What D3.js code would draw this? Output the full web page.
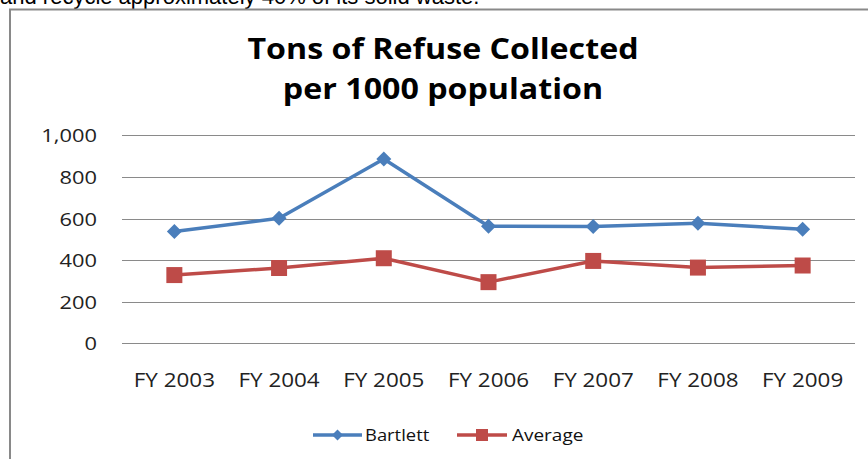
<!DOCTYPE html>
<html><head><meta charset="utf-8">
<script src="https://cdn.jsdelivr.net/npm/d3@7"></script>
<style>body{margin:0;background:#fff;overflow:hidden}svg{display:block}</style>
</head><body>
<svg id="c" width="868" height="459"></svg>
<script>
const categories = ["FY 2003","FY 2004","FY 2005","FY 2006","FY 2007","FY 2008","FY 2009"];
const bartlett = [537, 601, 886, 563, 562, 577, 548];
const average = [328, 362, 409, 294, 396, 364, 374];
const yTicks = [0, 200, 400, 600, 800, 1000];
const titleLines = ["Tons of Refuse Collected", "per 1000 population"];
const seriesNames = ["Bartlett", "Average"];
const introText = "and recycle approximately 40% of its solid waste.";

const svg = d3.select("#c");
const SX = 1.15;
const FONT = "'Open Sans', sans-serif";
function txt(g, x, y, s, opts) {
  return g.append("text")
    .attr("transform", `translate(${x},${y}) scale(${opts.sx || SX},1)`)
    .attr("text-anchor", opts.anchor || "start")
    .attr("font-family", opts.family || FONT)
    .attr("font-size", opts.size)
    .attr("font-weight", opts.weight || "normal")
    .attr("fill", opts.fill || "#222")
    .text(s);
}

// intro text cut at top (as in the reference)
txt(svg, 0, 4, introText, {size: 22, family: "'Liberation Sans', Arial, sans-serif", sx: 1.0, fill: "#000"});

// chart border (top and left visible)
svg.append("path").attr("d", "M10,459 V9.5 H868").attr("fill", "none")
  .attr("stroke", "#898989").attr("stroke-width", 2);

// title
titleLines.forEach((t, i) => txt(svg, 443, 59 + i * 40, t, {size: 28, weight: "bold", anchor: "middle", fill: "#000"}));

const x = d3.scaleBand().domain(categories).range([122, 855]);
const y = d3.scaleLinear().domain([0, 1000]).range([343.3, 135.3]);

// gridlines
svg.append("g").selectAll("line").data(yTicks).join("line")
  .attr("x1", 122).attr("x2", 855)
  .attr("y1", d => Math.round(y(d)) + 0.5).attr("y2", d => Math.round(y(d)) + 0.5)
  .attr("stroke", "#8a8a8a").attr("stroke-width", 1);

// y labels
const fmt = d3.format(",");
const gy = svg.append("g");
yTicks.forEach(d => txt(gy, 97, y(d) + 7, fmt(d), {size: 19, anchor: "end"}));

// x labels
const gx = svg.append("g");
categories.forEach(c => txt(gx, x(c) + x.bandwidth() / 2, 387, c, {size: 19.5, anchor: "middle"}));

const blue = "#4A7EBB", red = "#BE4B48";
const line = d3.line().x((d, i) => x(categories[i]) + x.bandwidth() / 2).y(d => y(d));

svg.append("path").datum(bartlett).attr("d", line).attr("fill", "none")
  .attr("stroke", blue).attr("stroke-width", 3.5).attr("stroke-linejoin", "round");
svg.append("path").datum(average).attr("d", line).attr("fill", "none")
  .attr("stroke", red).attr("stroke-width", 3.5).attr("stroke-linejoin", "round");

function diamondPath(cx, cy, r) { return `M${cx},${cy - r}L${cx + r},${cy}L${cx},${cy + r}L${cx - r},${cy}Z`; }

svg.append("g").selectAll("path").data(bartlett).join("path")
  .attr("d", (d, i) => diamondPath(x(categories[i]) + x.bandwidth() / 2, y(d), 7.5))
  .attr("fill", blue);
svg.append("g").selectAll("rect").data(average).join("rect")
  .attr("x", (d, i) => x(categories[i]) + x.bandwidth() / 2 - 8)
  .attr("y", d => y(d) - 8).attr("width", 16).attr("height", 16)
  .attr("fill", red);

// legend
const lg = svg.append("g");
lg.append("line").attr("x1", 313).attr("x2", 362).attr("y1", 435).attr("y2", 435).attr("stroke", blue).attr("stroke-width", 3.5);
lg.append("path").attr("d", diamondPath(337.5, 435, 5.5)).attr("fill", blue);
txt(lg, 365, 441, seriesNames[0], {size: 16, fill: "#111"});
lg.append("line").attr("x1", 457).attr("x2", 507).attr("y1", 435).attr("y2", 435).attr("stroke", red).attr("stroke-width", 3.5);
lg.append("rect").attr("x", 476).attr("y", 429).attr("width", 12).attr("height", 12).attr("fill", red);
txt(lg, 512, 441, seriesNames[1], {size: 16.5, fill: "#111"});
</script>
</body></html>
